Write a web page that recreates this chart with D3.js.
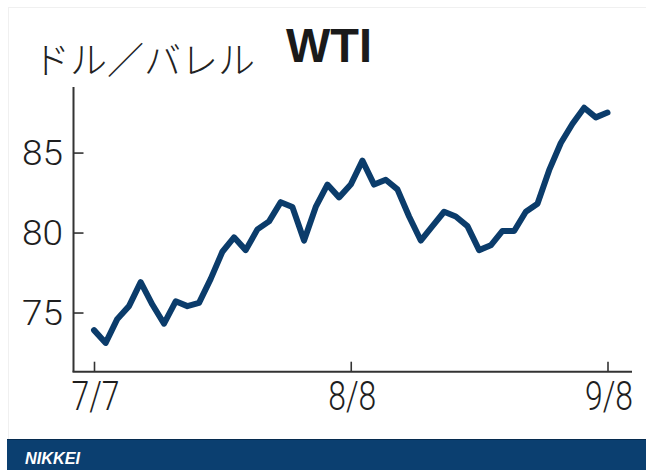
<!DOCTYPE html>
<html>
<head>
<meta charset="utf-8">
<script src="https://cdn.jsdelivr.net/npm/d3@7"></script>
<style>
  body { margin: 0; background: #fff; }
  .axis path, .axis line { stroke: #333; }
  .tick-label { font-family: Roboto, "Liberation Sans", sans-serif; font-weight: 300; fill: #1e1e1e; }
</style>
</head>
<body>
<div class="chart"></div>
<script>
// WTI daily closes, trading days 7/7 - 9/8
var dates = ["7/7","7/10","7/11","7/12","7/13","7/14","7/17","7/18","7/19","7/20","7/21",
    "7/24","7/25","7/26","7/27","7/28","7/31","8/1","8/2","8/3","8/4","8/7","8/8","8/9",
    "8/10","8/11","8/14","8/15","8/16","8/17","8/18","8/21","8/22","8/23","8/24","8/25",
    "8/28","8/29","8/30","8/31","9/1","9/5","9/6","9/7","9/8"];
var prices = [73.9,73.1,74.6,75.4,76.9,75.5,74.3,75.7,75.4,75.6,77.1,
    78.8,79.7,78.9,80.2,80.7,81.9,81.6,79.5,81.6,83.0,82.2,83.0,84.5,
    83.0,83.3,82.7,81.0,79.5,80.4,81.3,81.0,80.4,78.9,79.2,80.1,
    80.1,81.3,81.8,83.9,85.6,86.8,87.8,87.2,87.5];
var xTicks = ["7/7","8/8","9/8"];
var yTicks = [75, 80, 85];
var unitLabel = "ドル／バレル";
var title = "WTI";
var source = "NIKKEI";

var width = 646, height = 470;

var svg = d3.select(".chart").append("svg")
    .attr("width", width)
    .attr("height", height);

// faint frame
svg.append("rect")
    .attr("x", 8.5).attr("y", 7.5)
    .attr("width", 650).attr("height", 440)
    .attr("fill", "none")
    .attr("stroke", "#f0f0f0");

const xScale = d3.scalePoint()
    .domain(dates)
    .range([94, 607.5]);

const yScale = d3.scaleLinear()
    .domain([71.3, 89.1])
    .range([371.7, 87]);

// y axis (ticks point inward)
const yAxis = d3.axisRight(yScale)
    .tickValues(yTicks)
    .tickSize(10)
    .tickFormat("");

svg.append("g")
    .attr("class", "axis y-axis")
    .attr("transform", "translate(73.5,0)")
    .call(yAxis)
    .call(g => g.select(".domain").attr("stroke-width", 2).attr("d", "M0,87V371.7"))
    .call(g => g.selectAll(".tick line").attr("stroke-width", 1.6));

svg.selectAll(".y-label")
    .data(yTicks)
    .enter().append("text")
    .attr("class", "tick-label y-label")
    .attr("x", 63)
    .attr("y", d => yScale(d))
    .attr("dy", "0.36em")
    .attr("text-anchor", "end")
    .attr("font-size", 35)
    .attr("textLength", 41)
    .attr("lengthAdjust", "spacingAndGlyphs")
    .text(d => d);

// x axis (ticks point inward)
const xAxis = d3.axisTop(xScale)
    .tickValues(xTicks)
    .tickSize(10)
    .tickFormat("");

svg.append("g")
    .attr("class", "axis x-axis")
    .attr("transform", "translate(0,371.7)")
    .call(xAxis)
    .call(g => g.select(".domain").attr("stroke-width", 2).attr("d", "M72.5,0H632"))
    .call(g => g.selectAll(".tick line").attr("stroke-width", 1.6));

svg.selectAll(".x-label")
    .data(xTicks)
    .enter().append("text")
    .attr("class", "tick-label x-label")
    .attr("x", d => xScale(d) + 1.5)
    .attr("y", 410)
    .attr("text-anchor", "middle")
    .attr("font-size", 40)
    .attr("textLength", 48)
    .attr("lengthAdjust", "spacingAndGlyphs")
    .text(d => d);

// price line
var line = d3.line()
    .x((d, i) => xScale(dates[i]))
    .y(d => yScale(d));

svg.append("path")
    .datum(prices)
    .attr("fill", "none")
    .attr("stroke", "#0b3c6b")
    .attr("stroke-width", 6)
    .attr("stroke-linejoin", "round")
    .attr("stroke-linecap", "round")
    .attr("d", line);

// titles
svg.append("text")
    .attr("x", 33)
    .attr("y", 74)
    .attr("font-family", "Noto Sans CJK JP")
    .attr("font-weight", 300)
    .attr("font-size", 37)
    .attr("fill", "#222")
    .text(unitLabel);

svg.append("text")
    .attr("x", 286)
    .attr("y", 62)
    .attr("font-family", "Liberation Sans, Arial, sans-serif")
    .attr("font-weight", "bold")
    .attr("font-size", 48)
    .attr("textLength", 86)
    .attr("lengthAdjust", "spacingAndGlyphs")
    .attr("fill", "#1a1a1a")
    .text(title);

// source banner
svg.append("rect")
    .attr("x", 7).attr("y", 439)
    .attr("width", width - 7).attr("height", height - 439)
    .attr("fill", "#0b3f70");

svg.append("line")
    .attr("x1", 7).attr("x2", width)
    .attr("y1", 439.5).attr("y2", 439.5)
    .attr("stroke", "#062b4f");

svg.append("text")
    .attr("x", 25)
    .attr("y", 464)
    .attr("font-family", "Liberation Sans, Arial, sans-serif")
    .attr("font-weight", "bold")
    .attr("font-style", "italic")
    .attr("font-size", 16)
    .attr("textLength", 55)
    .attr("lengthAdjust", "spacingAndGlyphs")
    .attr("fill", "#fff")
    .text(source);
</script>
</body>
</html>
